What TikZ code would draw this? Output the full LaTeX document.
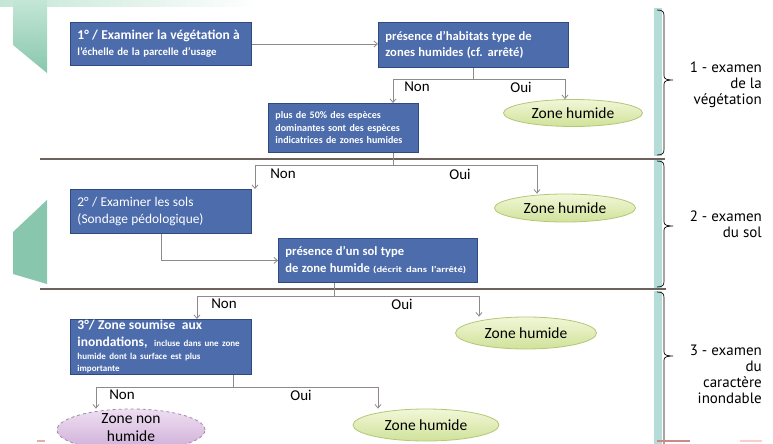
\documentclass[tikz,border=0pt]{standalone}
\usepackage{fontspec}
\setmainfont{Carlito}
\newfontfamily\labfont{PT Sans}
\usepackage{graphicx}
\usetikzlibrary{arrows.meta,shapes.geometric}
\definecolor{boxblue}{HTML}{4D6CAC}
\definecolor{boxedge}{HTML}{2F4A7E}
\definecolor{connc}{HTML}{8F8989}
\definecolor{sepc}{HTML}{6E625C}
\definecolor{tealbar}{HTML}{B5DDD8}
\definecolor{greenA}{HTML}{C4E6D7}
\definecolor{greenB}{HTML}{88C7AE}
\definecolor{ellA}{HTML}{F1F7D8}
\definecolor{ellB}{HTML}{D0E299}
\definecolor{ellEdge}{HTML}{B3C777}
\definecolor{purA}{HTML}{EEDFF1}
\definecolor{purB}{HTML}{CEADD8}
\definecolor{purEdge}{HTML}{9E8AA6}
\begin{document}
\begin{tikzpicture}[x=1pt,y=-1pt,
 box/.style={rectangle, draw=boxedge, fill=boxblue, line width=0.9pt, text=white,
   inner xsep=7pt, inner ysep=0pt, align=left, anchor=north west, font=\bfseries},
 ell/.style={ellipse, inner sep=0pt, draw=ellEdge, line width=0.8pt,
   top color=ellA, bottom color=ellB, font=\fontsize{15.5}{18}\selectfont},
 ellnon/.style={ellipse, inner sep=0pt, draw=purEdge, dashed, line width=0.8pt,
   top color=purA, bottom color=purB, font=\fontsize{15.5}{18}\selectfont},
 lbl/.style={font=\fontsize{15}{18}\selectfont, inner sep=0pt},
 conn/.style={draw=connc, line width=0.8pt},
 arr/.style={conn, -{Straight Barb[length=3.5pt,width=6pt]}},
 sepline/.style={draw=sepc, line width=2pt},
 seclabel/.style={font=\labfont\fontsize{15}{16}\selectfont, align=right, anchor=north east, inner sep=0pt},
 brc/.style={draw=black, line width=0.7pt}
]
\useasboundingbox (0,0) rectangle (773,444);
\fill[white] (0,0) rectangle (773,444);

% decorative green shapes
\shade[left color=greenA, right color=white] (0,0) rectangle (260,7);
\shade[top color=greenA, bottom color=greenB] (13,0) -- (47,0) -- (47,73) -- (13,45) -- cycle;
\fill[greenB] (47,200) -- (47,284) -- (13,274) -- (13,232) -- cycle;

% teal bars
\fill[tealbar] (654,8) rectangle (662,156);
\fill[tealbar] (654,160) rectangle (662,288);
\fill[tealbar] (654,291) rectangle (662,444);

% braces
\draw[brc] (657,10) .. controls (663,10) and (664,12) .. (664,16) -- (664,76)
  .. controls (664,79) and (667,80) .. (673,80) .. controls (667,80) and (664,81) .. (664,84)
  -- (664,149) .. controls (664,153) and (663,155) .. (657,155);
\draw[brc] (657,161) .. controls (663,161) and (664,163) .. (664,167) -- (664,222)
  .. controls (664,225) and (667,226) .. (673,226) .. controls (667,226) and (664,227) .. (664,230)
  -- (664,281) .. controls (664,285) and (663,287) .. (657,287);
\draw[brc] (657,292) .. controls (663,292) and (664,294) .. (664,298) -- (664,352)
  .. controls (664,355) and (667,356) .. (673,356) .. controls (667,356) and (664,357) .. (664,360)
  -- (664,446);

% separators
\draw[sepline] (40,158.5) -- (665,158.5);
\draw[sepline] (40,289) -- (666,289);

% bottom small marks
\draw[draw=sepc!60!red!60, line width=1.5pt] (657,441) -- (690,441);
\draw[draw=red!20, line width=1.5pt] (740,441) -- (762,441);
\draw[draw=sepc!50!red!40, line width=1.5pt] (37,441) -- (45,441);

% section labels
\node[seclabel] (s1) at (762,62) {1 - examen\\de la\\végétation};
\node[seclabel] (s2) at (762,211) {2 - examen\\du sol};
\node[seclabel] (s3) at (762,345) {3 - examen\\du\\caractère\\inondable};

% boxes
\node[box, text width=167pt, minimum height=43pt] (b1) at (70,22)
  {\fontsize{13.5}{16}\selectfont 1° / Examiner la végétation à\par
   \fontsize{10.8}{16}\selectfont l’échelle de la parcelle d’usage\par};
\node[box, text width=176pt, minimum height=45pt] (b2) at (378,22)
  {\fontsize{12.6}{16}\selectfont présence d’habitats type de\par zones humides (cf. arrêté)\par};
\node[box, text width=136pt, minimum height=49pt] (b3) at (268,103)
  {\fontsize{10}{12.5}\selectfont plus de 50\% des espèces\par dominantes sont des espèces\par indicatrices de zones humides\par};
\node[box, text width=167pt, minimum height=44pt, font=\mdseries] (b4) at (70,189)
  {\fontsize{13.4}{17}\selectfont 2° / Examiner les sols\par (Sondage pédologique)\par};
\node[box, text width=185pt, minimum height=44pt] (b5) at (278,238)
  {\fontsize{12.6}{17}\selectfont présence d’un sol type\par
   de zone humide {\scalebox{1.25}[1]{\fontsize{8.5}{10}\selectfont (décrit dans l’arrêté)}}\par};
\node[box, text width=167pt, minimum height=55pt] (b6) at (70,319)
  {\fontsize{13.5}{17}\selectfont 3°/ Zone soumise \ aux\par
   inondations, {\fontsize{9}{12.5}\selectfont\ incluse dans une zone}\par
   \fontsize{9}{12.5}\selectfont humide dont la surface est plus\par importante\par};

% ellipses
\node[ell, minimum width=139pt, minimum height=27pt] (e1) at (573,113) {Zone humide};
\node[ell, minimum width=141pt, minimum height=28pt] (e2) at (565,208) {Zone humide};
\node[ell, minimum width=141pt, minimum height=32pt] (e3) at (526,333) {Zone humide};
\node[ell, minimum width=146pt, minimum height=32pt] (e4) at (426,425) {Zone humide};
\node[ellnon, minimum width=148pt, minimum height=42pt] (en) at (131,430)
  {\raisebox{2pt}{\parbox[c][0pt]{70pt}{\centering Zone non\\humide}}};

% junction coordinates
\coordinate (j1L) at (393,79);  \coordinate (j1R) at (565,79);
\coordinate (j2L) at (255,165); \coordinate (j2R) at (537,165);
\coordinate (j3L) at (197,296); \coordinate (j3M) at (334,296); \coordinate (j3R) at (479,296);
\coordinate (j4L) at (96,387);  \coordinate (j4M) at (233,387); \coordinate (j4R) at (378,387);

% connectors
\draw[arr] (b1.east) -- (b1.east -| b2.west);
\draw[conn] (b2.south) -- (b2.south |- j1L);
\draw[arr] (j1L) -- (j1L |- b3.north);
\draw[arr] (j1L) -- (j1R) -- (j1R |- e1.north);

\draw[conn] (j1L |- b3.south) -- (j1L |- j2L);
\draw[arr] (j2L) -- (j2L |- b4.north);
\draw[arr] (j2L) -- (j2R) -- (j2R |- e2.north);

\draw[arr] (b4.south) |- (b5.west);

\draw[conn] (j3M |- b5.south) -- (j3M);
\draw[arr] (j3L) -- (j3L |- b6.north);
\draw[arr] (j3L) -- (j3R) -- (j3R |- e3.north);

\draw[conn] (j4M |- b6.south) -- (j4M);
\draw[arr] (j4L) -- (j4L |- en.north);
\draw[arr] (j4L) -- (j4R) -- (j4R |- e4.north);

% branch labels
\node[lbl] (n1) at (417,87) {Non};
\node[lbl] (o1) at (521,87) {Oui};
\node[lbl] (n2) at (283,174) {Non};
\node[lbl] (o2) at (460,174) {Oui};
\node[lbl] (n3) at (224,304) {Non};
\node[lbl] (o3) at (402,304) {Oui};
\node[lbl] (n4) at (122,395) {Non};
\node[lbl] (o4) at (301,395) {Oui};
\end{tikzpicture}
\end{document}
